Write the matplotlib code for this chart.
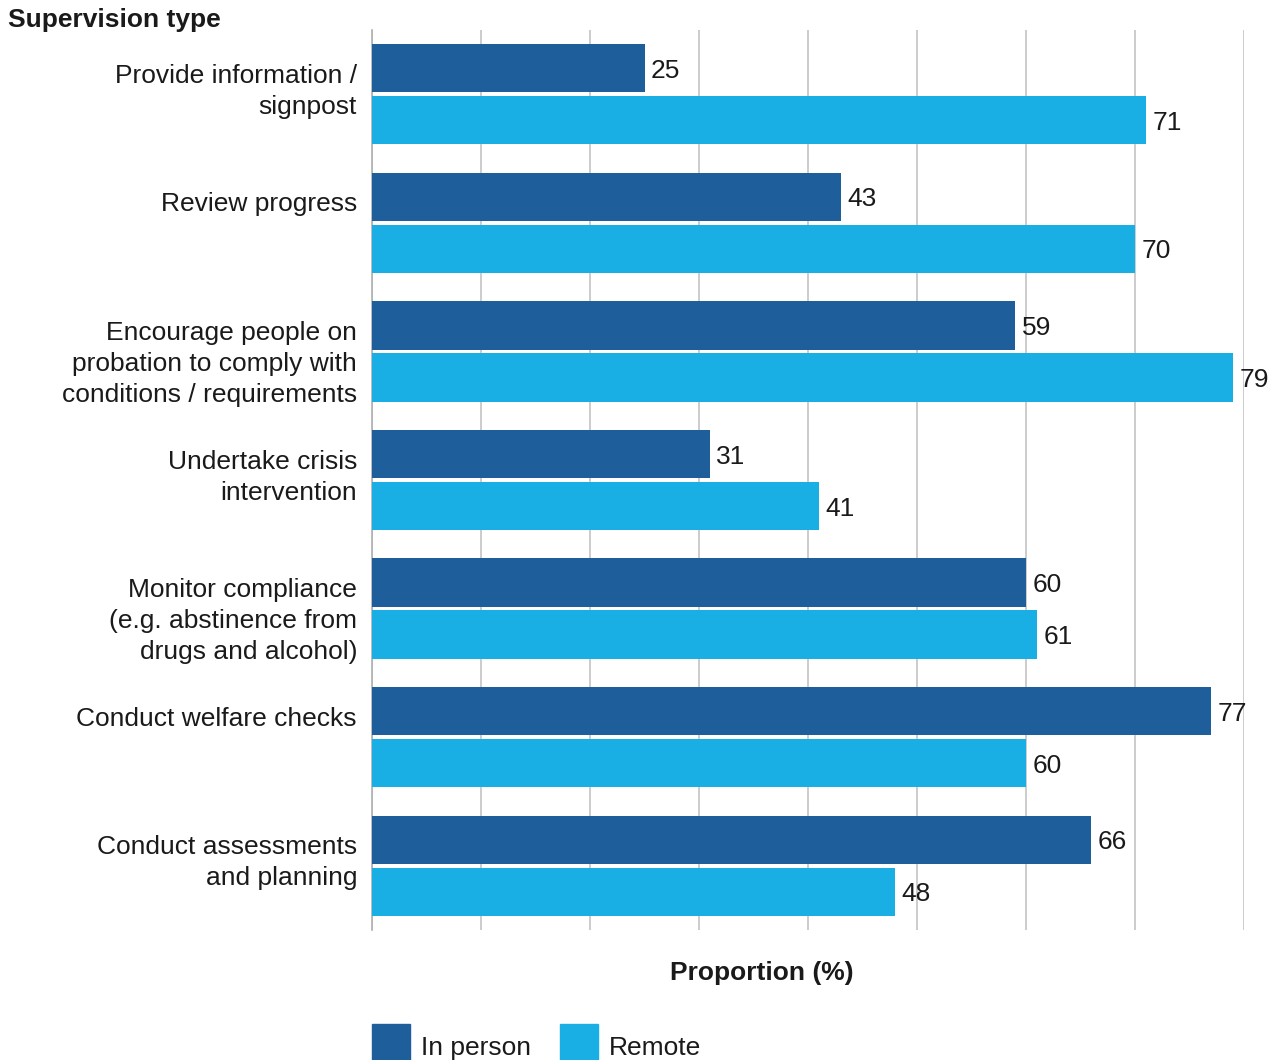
import numpy as np
import matplotlib.pyplot as plt
from matplotlib.patches import Rectangle
from matplotlib.transforms import blended_transform_factory

plt.rcParams['font.family'] = ['Liberation Sans', 'DejaVu Sans']

categories = [
    "Provide information /\nsignpost",
    "Review progress",
    "Encourage people on\nprobation to comply with\nconditions / requirements",
    "Undertake crisis\nintervention",
    "Monitor compliance\n(e.g. abstinence from\ndrugs and alcohol)",
    "Conduct welfare checks",
    "Conduct assessments\nand planning",
]
in_person = [25, 43, 59, 31, 60, 77, 66]
remote = [71, 70, 79, 41, 61, 60, 48]
series_names = ["In person", "Remote"]

dark = "#1d5e9b"
light = "#1aafe4"
txt = "#1a1a1a"
fs = 19

fig = plt.figure(figsize=(12.8, 10.6), dpi=100)
ax = fig.add_axes([372/1280, 1 - 930/1060, 872/1280, 900/1060])

y = np.arange(len(categories))
h = 0.375
ax.barh(y - 0.202, in_person, height=h, color=dark, zorder=3)
ax.barh(y + 0.202, remote, height=h, color=light, zorder=3)

# value labels at the bar ends
for i in range(len(categories)):
    ax.text(in_person[i] + 0.6, y[i] - 0.202 + 0.02, str(in_person[i]),
            va="center", ha="left", fontsize=fs, color=txt, zorder=4)
    ax.text(remote[i] + 0.6, y[i] + 0.202 + 0.02, str(remote[i]),
            va="center", ha="left", fontsize=fs, color=txt, zorder=4)

ax.set_xlim(0, 80)
ax.set_ylim(len(categories) - 0.5, -0.5)
ax.set_xticks(range(0, 81, 10))
ax.set_xticklabels([])
ax.tick_params(axis="x", length=0)
ax.set_yticks([])
ax.grid(axis="x", color="#c4c4c4", linewidth=1.2, zorder=0)
for s in ["top", "right", "bottom"]:
    ax.spines[s].set_visible(False)
ax.spines["left"].set_color("#b0b0b0")
ax.spines["left"].set_linewidth(1.2)

# category labels, top-aligned just above each group centre
tr = blended_transform_factory(fig.transFigure, ax.transData)
for i, c in enumerate(categories):
    ax.text(357/1280, y[i] - 0.237, c, transform=tr, ha="right", va="top",
            fontsize=fs, color=txt, linespacing=1.37)

fig.text(8/1280, 1 - 20/1060, "Supervision type", fontsize=fs, fontweight="bold",
         color=txt, ha="left", va="center")
fig.text(762/1280, 1 - 973/1060, "Proportion (%)", fontsize=fs, fontweight="bold",
         color=txt, ha="center", va="center")

# legend
for x0, col, name in [(372, dark, series_names[0]), (560, light, series_names[1])]:
    fig.patches.append(Rectangle((x0/1280, 0), 38/1280, 36/1060, color=col,
                                 transform=fig.transFigure, figure=fig))
    fig.text((x0 + 49)/1280, 1 - 1048/1060, name, fontsize=fs, color=txt,
             ha="left", va="center")

fig.savefig("out.png", dpi=100)
